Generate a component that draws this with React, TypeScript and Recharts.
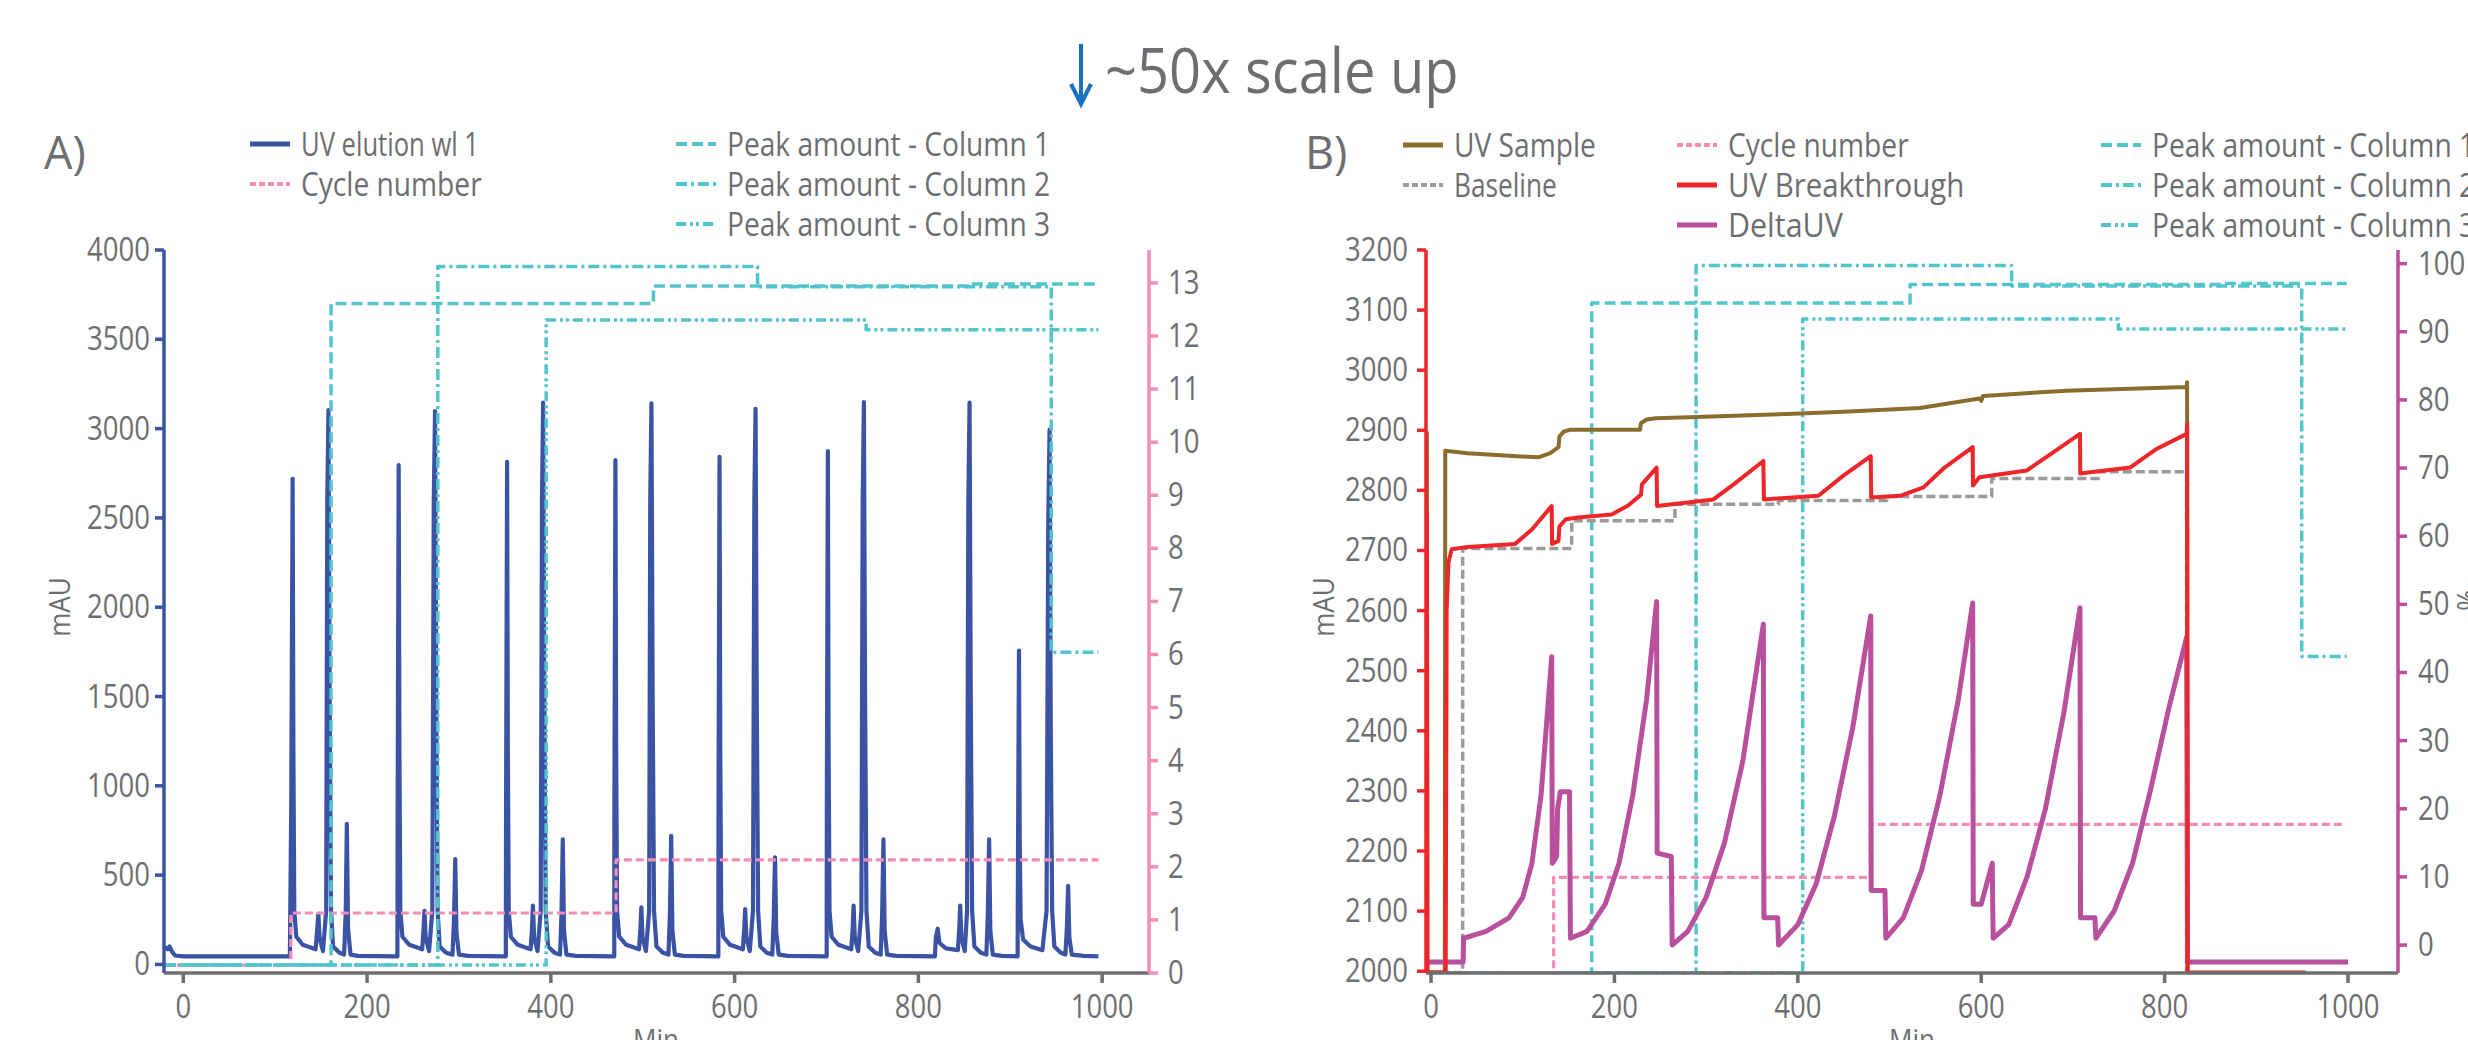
import React from 'react';
import { ComposedChart, Line, XAxis, YAxis } from 'recharts';

const FONT = "'Open Sans', 'Noto Sans', sans-serif";
const GREY = '#6d6e71';
const BLUE = '#3b53a4';
const PINK = '#f48cb8';
const CYAN = '#52c4cc';
const OLIVE = '#8a6d2e';
const RED = '#ee2529';
const MAGENTA = '#b8509e';
const BASEGREY = '#9a9a9a';

// ---- axes ----
const xTicks = [0, 200, 400, 600, 800, 1000];
const mauTicksA = [0, 500, 1000, 1500, 2000, 2500, 3000, 3500, 4000];
const cycleTicks = [0, 1, 2, 3, 4, 5, 6, 7, 8, 9, 10, 11, 12, 13];
const mauTicksB = [2000, 2100, 2200, 2300, 2400, 2500, 2600, 2700, 2800, 2900, 3000, 3100, 3200];
const pctTicks = [0, 10, 20, 30, 40, 50, 60, 70, 80, 90, 100];

// ---- A) small scale run: [min, value] ----
const uvElution: [number, number][] = [
  [-20, 98], [-17, 85], [-15, 100], [-12, 70], [-9, 50], [0, 45], [116, 45],
  // cycle 1
  [117.5, 900], [119, 2719], [119.8, 1200], [120.8, 300], [123, 155], [130, 110], [144, 85],
  [145.8, 200], [147, 283], [148.3, 150], [152, 75], [155.5, 300], [156.7, 2600], [158, 3103],
  [159.3, 1500], [160.8, 300], [163, 100], [170, 65], [175, 55], [176.8, 300], [178, 787],
  [179.3, 200], [182, 55], [190, 48], [233, 45],
  // cycle 2
  [233.3, 900], [234.4, 2795], [235.2, 1200], [236.2, 300], [238.5, 155], [246, 110], [260, 85],
  [261.5, 200], [262.5, 300], [263.8, 150], [267.5, 75], [271, 300], [272.6, 2600], [274, 3098],
  [275.3, 1500], [276.8, 300], [279, 100], [286, 65], [293, 55], [294.6, 250], [296, 590],
  [297.3, 180], [300, 55], [310, 48], [351, 45],
  // cycle 3
  [351.3, 900], [352.4, 2814], [353.2, 1200], [354.2, 300], [356.5, 155], [364, 110], [378, 85],
  [379.5, 200], [380.5, 330], [381.8, 150], [385.5, 75], [389, 300], [390.4, 2600], [391.6, 3145],
  [392.9, 1500], [394.4, 300], [397, 100], [404, 65], [410, 55], [411.6, 280], [413, 700],
  [414.3, 190], [417, 55], [427, 48], [469, 45],
  // cycle 4
  [469.2, 900], [470.3, 2823], [471.1, 1200], [472.1, 300], [474.4, 155], [482, 110], [496, 85],
  [497.5, 200], [498.5, 320], [499.8, 150], [503.5, 75], [507, 300], [508.2, 2600], [509.5, 3141],
  [510.8, 1500], [512.3, 300], [515, 100], [522, 65], [528, 55], [529.6, 280], [531, 720],
  [532.3, 190], [535, 55], [545, 48], [582.3, 45],
  // cycle 5
  [582.5, 900], [583.6, 2842], [584.4, 1200], [585.4, 300], [587.7, 155], [595, 110], [609, 85],
  [610.5, 200], [611.5, 310], [612.8, 150], [616.5, 75], [620, 300], [621.5, 2600], [622.8, 3111],
  [624.1, 1500], [625.6, 300], [628, 100], [635, 65], [641, 55], [642.6, 260], [644, 600],
  [645.3, 180], [648, 55], [658, 48], [700.2, 45],
  // cycle 6
  [700.4, 900], [701.5, 2874], [702.3, 1200], [703.3, 300], [705.6, 155], [713, 110], [727, 85],
  [728.5, 200], [729.5, 330], [730.8, 150], [734.5, 75], [738, 300], [739.4, 2600], [740.7, 3148],
  [742, 1500], [743.5, 300], [746, 100], [753, 65], [759, 55], [760.6, 280], [762, 700],
  [763.3, 190], [766, 55], [776, 48], [818, 45],
  // cycle 7
  [819, 150], [821, 200], [823, 120], [830, 90], [843, 80], [844.5, 200], [845.5, 330],
  [846.8, 150], [850.5, 75], [853, 300], [854.4, 2600], [855.7, 3145], [857, 1500], [858.5, 300],
  [861, 100], [868, 65], [874, 55], [875.6, 280], [877, 700], [878.3, 190], [881, 55], [891, 48],
  [908, 45],
  // cycle 8
  [908.5, 700], [909.5, 1757], [910.3, 700], [911.3, 250], [914, 140], [922, 100], [935, 80],
  [939.5, 300], [941.4, 2500], [942.8, 2995], [944.1, 1300], [945.6, 300], [948, 100], [955, 65],
  [960, 55], [961.6, 200], [963, 440], [964.3, 150], [967, 55], [980, 48], [996, 45],
];

const cycleA: [number, number][] = [[-20, 0.15], [117, 1.13], [471, 2.13], [996, 2.13]];
const peakA1: [number, number][] = [[-20, 0.15], [160.8, 12.61], [511.7, 12.94], [857.6, 12.98], [996, 12.98]];
const peakA2: [number, number][] = [[-20, 0.15], [277, 13.31], [625, 12.93], [944.6, 6.04], [996, 6.04]];
const peakA3: [number, number][] = [[-20, 0.15], [394.9, 12.3], [743.2, 12.12], [996, 12.12]];

// ---- B) ~50x scale up: [min, value] ----
const uvSample: [number, number][] = [
  [-4.5, 2898], [-4, 1998], [15, 1998], [15.5, 2866], [40, 2862], [80, 2858], [117, 2855],
  [130, 2862], [139, 2872], [140, 2890], [145, 2898], [152, 2901], [228, 2901], [229, 2912],
  [235, 2918], [245, 2920], [290, 2922], [388, 2927], [450, 2931], [533, 2937], [598, 2953],
  [600, 2949], [602, 2957], [693, 2966], [824, 2972], [824.5, 2980], [825, 1998],
];
const uvBreakthrough: [number, number][] = [
  [-4.5, 2764], [-4, 1998], [16, 1998], [17, 2600], [19, 2680], [22.5, 2702], [40, 2706],
  [91.6, 2711], [110, 2735], [131.6, 2774], [132, 2711], [139, 2716], [140, 2740], [147, 2752],
  [160, 2755], [197, 2760], [215, 2775], [229, 2793], [230, 2810], [246, 2838], [246.5, 2774],
  [307.9, 2785], [330, 2810], [362.4, 2849], [363, 2785], [422.4, 2791], [450, 2825],
  [479.5, 2857], [480, 2788], [511.5, 2791], [537, 2805], [560, 2838], [590.7, 2872],
  [591, 2808], [598, 2822], [649.6, 2833], [680, 2865], [707.7, 2894], [708, 2828],
  [762.3, 2838], [790, 2868], [824, 2894], [824.5, 2910], [825, 1998], [954, 1998],
];
const baseline: [number, number][] = [
  [-4, 1998], [34.5, 2703.5], [153.4, 2749.5], [266, 2777], [378.8, 2783], [497, 2790],
  [611.4, 2820], [727.7, 2831], [824, 1998], [825, 1998],
];
const deltaUV: [number, number][] = [
  [-5, -2.5], [35, -2.5], [35.5, 1], [60, 2], [85, 4], [100, 7], [110, 12], [120, 22],
  [131.6, 42.3], [132.2, 12], [137, 13], [138, 20], [141, 22.5], [151, 22.5], [152, 1],
  [170, 2], [190, 6], [205, 12], [220, 22], [235, 36], [246, 50.4], [246.6, 13.5], [262, 13],
  [263, 0], [280, 2], [300, 7], [320, 15], [340, 27], [362.4, 47.1], [363, 4], [378, 4],
  [379, 0], [400, 3], [420, 9], [440, 19], [460, 32], [479.5, 48.3], [480, 8], [495, 8],
  [496, 1], [515, 4], [535, 11], [555, 22], [575, 36], [590.7, 50.2], [591.3, 6], [600, 6],
  [612, 12], [613, 1], [630, 3], [650, 10], [670, 20], [690, 34], [707.7, 49.5], [708.3, 4],
  [724, 4], [725, 1], [745, 5], [765, 12], [785, 23], [805, 35], [824, 45.2], [825, -2.5],
  [1000, -2.5],
];
const cycleB: [number, number][] = [[-5, 0], [133.7, 1.8], [479, 2.8], [997, 2.8]];
const peakB1: [number, number][] = [[-5, 0], [175.2, 12.62], [522.4, 12.97], [864, 12.99], [998.6, 12.99]];
const peakB2: [number, number][] = [[-5, 0], [289, 13.33], [633.2, 12.94], [949.5, 5.96], [998.6, 5.96]];
const peakB3: [number, number][] = [[-5, 0], [405.3, 12.32], [749.5, 12.13], [998.6, 12.13]];

const pts = (arr: [number, number][]) => arr.map(([t, v]) => ({ t, v }));

const DASH1 = '11 5';
const DASH2 = '11 4 3 4';
const DASH3 = '10 4 3 3 3 4';

const makeTick = (anchor: 'start' | 'middle' | 'end', dx: number, dy: number) => (props: any) => {
  const { x, y, payload } = props;
  return (
    <text
      transform={`translate(${x + dx},${y + dy}) scale(0.86,1)`}
      textAnchor={anchor}
      fill={GREY}
      fontSize={32}
      fontFamily={FONT}
    >
      {payload.value}
    </text>
  );
};

const seriesLine = (
  key: string,
  data: [number, number][],
  yAxisId: string,
  stroke: string,
  width: number,
  dash?: string,
  type: 'linear' | 'stepAfter' = 'linear'
) => (
  <Line
    key={key}
    data={pts(data)}
    dataKey="v"
    xAxisId="x"
    yAxisId={yAxisId}
    type={type}
    stroke={stroke}
    strokeWidth={width}
    strokeDasharray={dash}
    strokeLinejoin="round"
    dot={false}
    activeDot={false}
    isAnimationActive={false}
  />
);

const LegendRow = ({ x, y, color, dash, width, label, sx = 0.88 }: any) => (
  <g>
    <line x1={x} x2={x + 40} y1={y} y2={y} stroke={color} strokeWidth={width} strokeDasharray={dash} />
    <text transform={`translate(${x + 51},${y + 12}) scale(${sx},1)`} fill={GREY} fontSize={32} fontFamily={FONT}>
      {label}
    </text>
  </g>
);

const App = () => {
  return (
    <div style={{ position: 'absolute', left: 0, top: 0, width: 2468, height: 1040, overflow: 'hidden', background: '#fff' }}>
      {/* A) */}
      <div style={{ position: 'absolute', left: 0, top: 0 }}>
        <ComposedChart width={1240} height={1040} margin={{ top: 250, right: 0, bottom: 7, left: 84 }}>
          <XAxis
            xAxisId="x"
            type="number"
            dataKey="t"
            domain={[-21, 1051]}
            ticks={xTicks}
            allowDataOverflow
            height={60}
            axisLine={{ stroke: GREY, strokeWidth: 3.5 }}
            tickLine={{ stroke: GREY, strokeWidth: 3.5 }}
            tickSize={10}
            tick={makeTick('middle', 0, 33)}
          />
          <YAxis
            yAxisId="mau"
            orientation="left"
            type="number"
            domain={[-48, 4000]}
            ticks={mauTicksA}
            allowDataOverflow
            width={80}
            axisLine={{ stroke: BLUE, strokeWidth: 3.5 }}
            tickLine={{ stroke: BLUE, strokeWidth: 3.5 }}
            tickSize={9}
            tick={makeTick('end', -3, 11)}
          />
          <YAxis
            yAxisId="cyc"
            orientation="right"
            type="number"
            domain={[0, 13.62]}
            ticks={cycleTicks}
            allowDataOverflow
            width={91}
            axisLine={{ stroke: PINK, strokeWidth: 3.5 }}
            tickLine={{ stroke: PINK, strokeWidth: 3.5 }}
            tickSize={9}
            tick={makeTick('start', 8, 11)}
          />
          {seriesLine('uv', uvElution, 'mau', BLUE, 4.2)}
          {seriesLine('cyc', cycleA, 'cyc', PINK, 3.2, '8 4', 'stepAfter')}
          {seriesLine('p1', peakA1, 'cyc', CYAN, 3.5, DASH1, 'stepAfter')}
          {seriesLine('p2', peakA2, 'cyc', CYAN, 3.5, DASH2, 'stepAfter')}
          {seriesLine('p3', peakA3, 'cyc', CYAN, 3.5, DASH3, 'stepAfter')}
        </ComposedChart>
      </div>

      {/* B) */}
      <div style={{ position: 'absolute', left: 1240, top: 0 }}>
        <ComposedChart width={1228} height={1040} margin={{ top: 250, right: 0, bottom: 7, left: 96 }}>
          <XAxis
            xAxisId="x"
            type="number"
            dataKey="t"
            domain={[-5.5, 1054.5]}
            ticks={xTicks}
            allowDataOverflow
            height={60}
            axisLine={{ stroke: GREY, strokeWidth: 3.5 }}
            tickLine={{ stroke: GREY, strokeWidth: 3.5 }}
            tickSize={10}
            tick={makeTick('middle', 0, 33)}
          />
          <YAxis
            yAxisId="mau"
            orientation="left"
            type="number"
            domain={[1997, 3200]}
            ticks={mauTicksB}
            allowDataOverflow
            width={90}
            axisLine={{ stroke: RED, strokeWidth: 3.5 }}
            tickLine={{ stroke: RED, strokeWidth: 3.5 }}
            tickSize={9}
            tick={makeTick('end', -7, 11)}
          />
          <YAxis
            yAxisId="pct"
            orientation="right"
            type="number"
            domain={[-4.1, 102]}
            ticks={pctTicks}
            allowDataOverflow
            width={70}
            axisLine={{ stroke: MAGENTA, strokeWidth: 3.5 }}
            tickLine={{ stroke: MAGENTA, strokeWidth: 3.5 }}
            tickSize={9}
            tick={makeTick('start', 9, 11)}
          />
          <YAxis yAxisId="cyc" orientation="right" width={0} hide type="number" domain={[0, 13.62]} allowDataOverflow />
          {seriesLine('p1', peakB1, 'cyc', CYAN, 3.5, DASH1, 'stepAfter')}
          {seriesLine('p2', peakB2, 'cyc', CYAN, 3.5, DASH2, 'stepAfter')}
          {seriesLine('p3', peakB3, 'cyc', CYAN, 3.5, DASH3, 'stepAfter')}
          {seriesLine('cyc', cycleB, 'cyc', PINK, 3.2, '8 4', 'stepAfter')}
          {seriesLine('base', baseline, 'mau', BASEGREY, 3.5, '9 4', 'stepAfter')}
          {seriesLine('sample', uvSample, 'mau', OLIVE, 4)}
          {seriesLine('delta', deltaUV, 'pct', MAGENTA, 5)}
          {seriesLine('bt', uvBreakthrough, 'mau', RED, 4)}
        </ComposedChart>
      </div>

      {/* titles, legends and axis names */}
      <svg width={2468} height={1040} style={{ position: 'absolute', left: 0, top: 0, pointerEvents: 'none' }}>
        <line x1={1081} x2={1081} y1={44} y2={100} stroke="#1a6fc0" strokeWidth={4} />
        <polyline points="1071,84 1081,104 1091,84" fill="none" stroke="#1a6fc0" strokeWidth={4} />
        <text transform="translate(1105,93) scale(0.89,1)" fill={GREY} fontSize={63} fontFamily={FONT}>
          ~50x scale up
        </text>

        <text x={44} y={169} fill={GREY} fontSize={45} fontFamily={FONT}>A)</text>
        <LegendRow x={250} y={144} color={BLUE} width={5} label="UV elution wl 1" sx={0.8} />
        <LegendRow x={250} y={184} color={PINK} width={4} dash="6 3" label="Cycle number" />
        <LegendRow x={676} y={144} color={CYAN} width={4} dash={DASH1} label="Peak amount - Column 1" />
        <LegendRow x={676} y={184} color={CYAN} width={4} dash={DASH2} label="Peak amount - Column 2" />
        <LegendRow x={676} y={224} color={CYAN} width={4} dash={DASH3} label="Peak amount - Column 3" />

        <text x={1305} y={169} fill={GREY} fontSize={45} fontFamily={FONT}>B)</text>
        <LegendRow x={1403} y={145} color={OLIVE} width={5} label="UV Sample" />
        <LegendRow x={1403} y={185} color={BASEGREY} width={4} dash="6 3" label="Baseline" sx={0.82} />
        <LegendRow x={1677} y={145} color={PINK} width={4} dash="6 3" label="Cycle number" />
        <LegendRow x={1677} y={185} color={RED} width={5} label="UV Breakthrough" sx={0.92} />
        <LegendRow x={1677} y={225} color={MAGENTA} width={5} label="DeltaUV" sx={0.95} />
        <LegendRow x={2101} y={145} color={CYAN} width={4} dash={DASH1} label="Peak amount - Column 1" />
        <LegendRow x={2101} y={185} color={CYAN} width={4} dash={DASH2} label="Peak amount - Column 2" />
        <LegendRow x={2101} y={225} color={CYAN} width={4} dash={DASH3} label="Peak amount - Column 3" />

        <text transform="translate(70,607) rotate(-90) scale(0.87,1)" textAnchor="middle" fill={GREY} fontSize={30} fontFamily={FONT}>mAU</text>
        <text transform="translate(1334,607) rotate(-90) scale(0.87,1)" textAnchor="middle" fill={GREY} fontSize={30} fontFamily={FONT}>mAU</text>
        <text transform="translate(2478,600) rotate(-90) scale(0.87,1)" textAnchor="middle" fill={GREY} fontSize={30} fontFamily={FONT}>%</text>
        <text transform="translate(656,1050) scale(0.87,1)" textAnchor="middle" fill={GREY} fontSize={30} fontFamily={FONT}>Min</text>
        <text transform="translate(1912,1050) scale(0.87,1)" textAnchor="middle" fill={GREY} fontSize={30} fontFamily={FONT}>Min</text>
      </svg>
    </div>
  );
};

export default App;
